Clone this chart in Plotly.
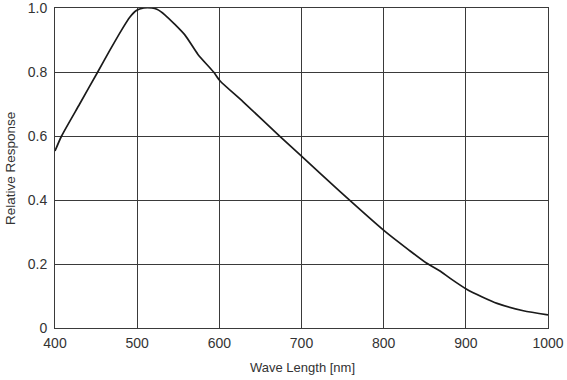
import plotly.graph_objects as go

wavelength = [400, 408, 430, 452, 467, 481, 491, 499, 508, 518, 524, 534, 558, 574, 593, 601,
              629, 674, 700, 747, 802, 830, 852, 868, 881, 901, 920, 938, 970, 1000]
response = [0.553, 0.600, 0.700, 0.800, 0.869, 0.931, 0.971, 0.992, 1.0, 1.0, 0.996, 0.978, 0.916, 0.855, 0.800, 0.772,
            0.707, 0.598, 0.537, 0.426, 0.301, 0.245, 0.203, 0.179, 0.155, 0.121, 0.097, 0.077, 0.054, 0.041]

x_ticks = [400, 500, 600, 700, 800, 900, 1000]
y_ticks = [0, 0.2, 0.4, 0.6, 0.8, 1.0]
y_labels = ["0", "0.2", "0.4", "0.6", "0.8", "1.0"]

L, R, T, B = 55, 19, 8, 52
W, H = 567, 380
pw, ph = W - L - R, H - T - B

fig = go.Figure(go.Scatter(x=wavelength, y=response, mode="lines",
                           line=dict(color="#1a1a1a", width=1.7, shape="spline", smoothing=0.6),
                           showlegend=False, cliponaxis=False, hoverinfo="skip"))

fig.update_layout(
    width=W, height=H,
    margin=dict(l=L, r=R, t=T, b=B, autoexpand=False),
    paper_bgcolor="white", plot_bgcolor="white",
    font=dict(family="Liberation Sans, Arial, sans-serif", size=14, color="#333333"),
)
fig.update_xaxes(range=[400, 1000], tickvals=x_ticks, ticktext=[str(v) for v in x_ticks],
                 showgrid=True, gridcolor="#3a3a3a", gridwidth=1,
                 showline=True, linecolor="#3a3a3a", linewidth=1, mirror=True,
                 zeroline=False, ticks="outside", ticklen=2, tickcolor="white",
                 automargin=False, ticklabeloverflow="allow")
fig.update_yaxes(range=[0, 1.0], tickvals=y_ticks, ticktext=y_labels,
                 showgrid=True, gridcolor="#3a3a3a", gridwidth=1,
                 showline=True, linecolor="#3a3a3a", linewidth=1, mirror=True,
                 zeroline=False, ticks="outside", ticklen=4, tickcolor="white",
                 automargin=False, ticklabeloverflow="allow")

fig.add_annotation(text="Wave Length [nm]", xref="paper", yref="paper",
                   x=(302 - L) / pw, y=-(367 - (T + ph)) / ph, showarrow=False,
                   xanchor="center", yanchor="middle", font=dict(size=13, color="#333333"))
fig.add_annotation(text="Relative Response", xref="paper", yref="paper",
                   x=(10 - L) / pw, y=(T + ph - 169) / ph, showarrow=False, textangle=-90,
                   xanchor="center", yanchor="middle", font=dict(size=13.5, color="#333333"))

fig.write_html("out.html", config={"displayModeBar": False},
               post_script="document.body.style.margin='0';")
